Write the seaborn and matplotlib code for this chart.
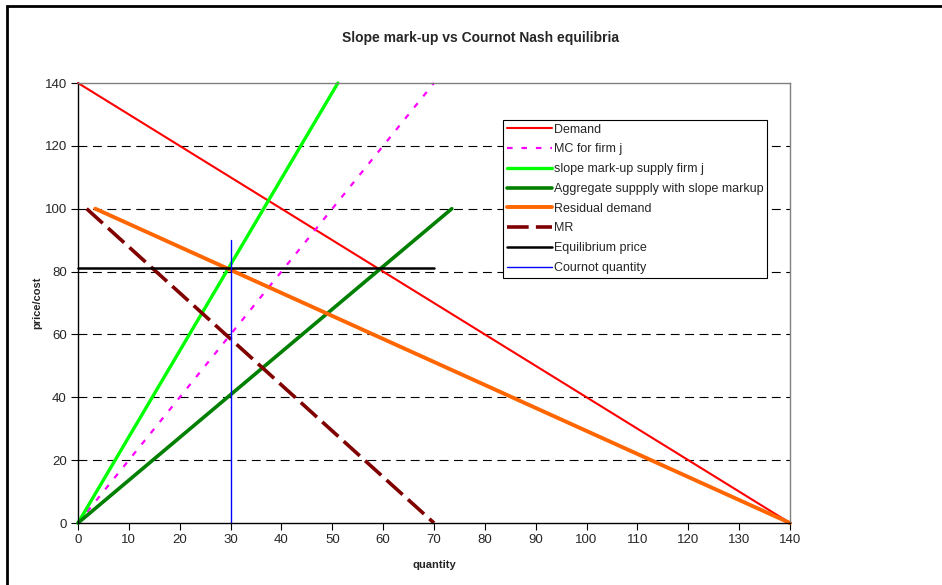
import matplotlib; matplotlib.use("Agg")
import matplotlib.pyplot as plt
import seaborn as sns
from matplotlib.patches import Rectangle
from matplotlib.lines import Line2D

sns.set_theme(style="white")
plt.rcParams["font.family"] = ["Liberation Sans", "DejaVu Sans"]

# data (quantity, price/cost)
demand_q = [0, 140]
demand_p = [140, 0]
mc_q = [0, 70]
mc_p = [0, 140]
supply_q = [0, 51.1]
supply_p = [0, 140]
agg_q = [0, 73.5]
agg_p = [0, 100]
resid_q = [3.4, 140]
resid_p = [100, 0]
mr_q = [1.7, 70]
mr_p = [100, 0]
eq_q = [0, 70]
eq_p = [81, 81]
cournot_q = [30, 30]
cournot_p = [0, 90]

x_ticks = list(range(0, 141, 10))
y_ticks = list(range(0, 141, 20))

fig = plt.figure(figsize=(9.42, 5.85), dpi=100)
ax = fig.add_axes([78 / 942, 1 - 523 / 585, 712 / 942, 440 / 585])

# horizontal dashed gridlines
for yv in y_ticks[1:-1]:
    ax.axhline(yv, color="black", lw=0.8, linestyle=(0, (8, 5)), zorder=0)

series = [
    ("Demand", demand_q, demand_p, dict(color="#FF0000", lw=1.5)),
    ("MC for firm j", mc_q, mc_p, dict(color="#FF00FF", lw=1.6, linestyle=(0, (2.5, 4)))),
    ("slope mark-up supply firm j", supply_q, supply_p, dict(color="#00FF00", lw=2.4)),
    ("Aggregate suppply with slope markup", agg_q, agg_p, dict(color="#008000", lw=2.6)),
    ("Residual demand", resid_q, resid_p, dict(color="#FF6600", lw=2.8)),
    ("MR", mr_q, mr_p, dict(color="#800000", lw=2.6, linestyle=(0, (6, 2)))),
    ("Equilibrium price", eq_q, eq_p, dict(color="black", lw=1.8)),
    ("Cournot quantity", cournot_q, cournot_p, dict(color="#0000FF", lw=1.0)),
]

handles = []
for label, q, p, style in series:
    sns.lineplot(x=q, y=p, sort=False, estimator=None, errorbar=None,
                 ax=ax, clip_on=False, **style)
    handles.append(Line2D([0], [0], **style))

ax.set_xlim(0, 140)
ax.set_ylim(0, 140)
ax.set_xticks(x_ticks)
ax.set_yticks(y_ticks)
ax.tick_params(axis="both", direction="out", length=5, width=0.8, color="black",
               labelsize=9.5, pad=3, left=True, bottom=True)
for side in ["left", "bottom"]:
    ax.spines[side].set_color("black")
    ax.spines[side].set_linewidth(1.0)
for side in ["top", "right"]:
    ax.spines[side].set_color("#808080")
    ax.spines[side].set_linewidth(1.0)

ax.set_xlabel("quantity", fontsize=8, fontweight="bold", labelpad=10)
ax.set_ylabel("price/cost", fontsize=8, fontweight="bold", labelpad=2)
fig.text(481 / 942, 1 - 38 / 585, "Slope mark-up vs Cournot Nash equilibria",
         ha="center", va="center", fontsize=10, fontweight="bold")

leg = ax.legend(handles, [s[0] for s in series], loc="upper left",
                bbox_to_anchor=(0.597, 0.916), borderaxespad=0, fontsize=9,
                frameon=True, fancybox=False, edgecolor="black", framealpha=1,
                handlelength=3.6, handletextpad=0.15, labelspacing=0.62,
                borderpad=0.3)
leg.get_frame().set_linewidth(0.8)

# outer chart border
fig.patches.append(Rectangle((7 / 942, -0.1), 2.0, 1 - 6 / 585 + 0.1,
                             transform=fig.transFigure, fill=False,
                             edgecolor="black", lw=2.0, clip_on=False))

fig.savefig("out.png", dpi=100)
